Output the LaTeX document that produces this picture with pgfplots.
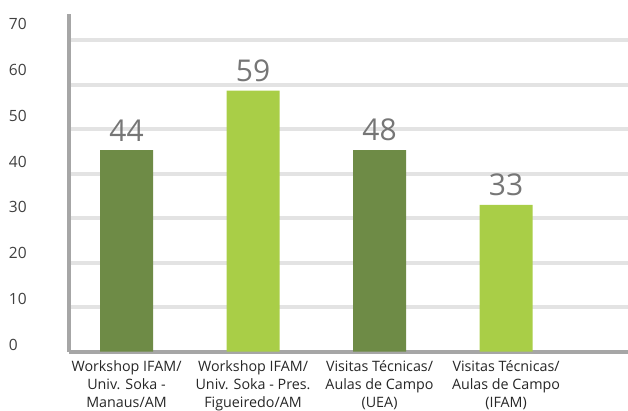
\documentclass[border=0pt]{standalone}
\usepackage{fontspec}
\setmainfont{Open Sans}
\usepackage{pgfplots}
\usepackage{pgfplotstable}
\pgfplotsset{compat=1.18}
\definecolor{darkg}{HTML}{6E8B46}
\definecolor{lightg}{HTML}{A9CE47}
\definecolor{axisgray}{HTML}{A6A6A6}
\definecolor{gridgray}{HTML}{E3E3E3}
\definecolor{valgray}{HTML}{767676}
\definecolor{ticktext}{HTML}{404040}
\definecolor{cattext}{HTML}{262626}
\pgfplotstableread{
x y lab
0 45.3 44
2 45.3 48
}\darkdata
\pgfplotstableread{
x y lab
1 58.7 59
3 33.0 33
}\lightdata
\begin{document}
\begin{tikzpicture}
\useasboundingbox (0,0) rectangle (628pt,410pt);
\begin{axis}[
  at={(68.7pt,58.3pt)}, anchor=south west,
  scale only axis, width=559.3pt, height=337.6pt,
  xmin=-0.457, xmax=3.964, ymin=0, ymax=75.9,
  axis x line*=bottom, axis y line*=left,
  axis line style={draw=axisgray, line width=4pt, -},
  major tick length=0pt,
  ytick={10,20,30,40,50,60,70}, yticklabels={},
  ymajorgrids, grid style={draw=gridgray, line width=4pt},
  extra y ticks={1.6,11.9,22.2,32.5,42.7,53.0,63.3,73.6},
  extra y tick labels={0,10,20,30,40,50,60,70},
  extra y tick style={grid=none},
  yticklabel style={anchor=west, inner sep=0pt, xshift=-60pt, font=\fontsize{15.5}{17}\selectfont, text=ticktext},
  /pgf/number format/assume math mode=true,
  xtick={0,1,2,3},
  xticklabels={{Workshop IFAM/\\Univ. Soka -\\Manaus/AM},{Workshop IFAM/\\Univ. Soka - Pres.\\Figueiredo/AM},{Visitas Técnicas/\\Aulas de Campo\\(UEA)},{Visitas Técnicas/\\Aulas de Campo\\(IFAM)}},
  xticklabel style={align=center, inner sep=0pt, yshift=-8.5pt, font=\fontsize{14.3}{18.2}\selectfont, text=cattext},
  ybar, bar width=53pt, bar shift=0pt,
  point meta=explicit symbolic,
  nodes near coords,
  nodes near coords style={font=\fontsize{30}{32}\selectfont, text=valgray, anchor=south, inner sep=0pt, yshift=9pt},
  clip=false,
]
\addplot[fill=darkg, draw=none] table[x=x, y=y, meta=lab]{\darkdata};
\addplot[fill=lightg, draw=none] table[x=x, y=y, meta=lab]{\lightdata};
\end{axis}
\end{tikzpicture}
\end{document}
